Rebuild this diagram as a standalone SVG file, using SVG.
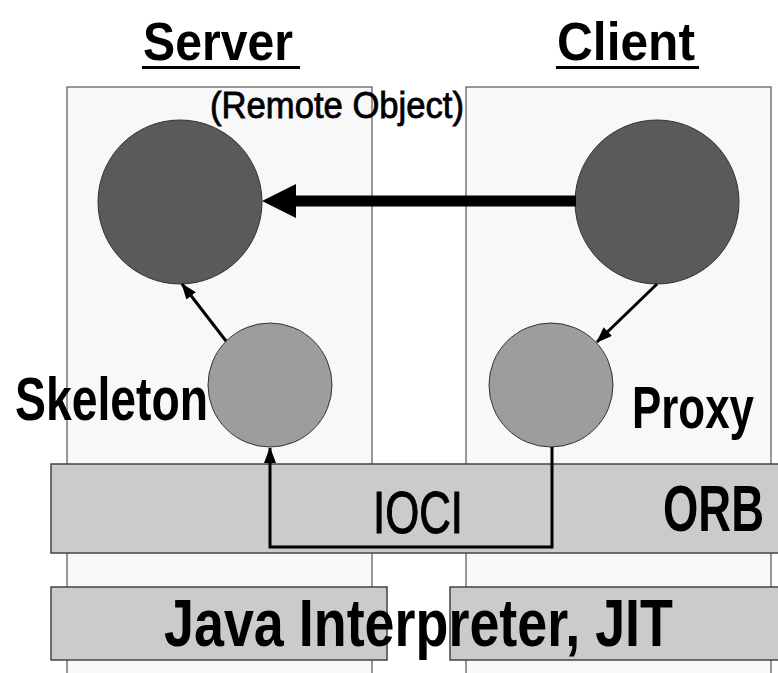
<svg xmlns="http://www.w3.org/2000/svg" width="778" height="673" viewBox="0 0 778 673">
<style>
.panel{fill:#f8f8f8;stroke:#555;stroke-width:1.2}
.bar{fill:#cbcbcb;stroke:#444;stroke-width:1.5}
.big{fill:#5a5a5a;stroke:#333;stroke-width:1}
.small{fill:#9d9d9d;stroke:#333;stroke-width:1}
.t{font-family:"Liberation Sans",Arial,sans-serif;fill:#000}
.b{font-weight:bold}
.conn{fill:none;stroke:#000;stroke-width:3}
</style>
<defs>
<marker id="ah" viewBox="0 0 16 12" refX="15" refY="6" markerWidth="16" markerHeight="12" markerUnits="userSpaceOnUse" orient="auto">
<path d="M0,0 L16,6 L0,12 z" fill="#000"/>
</marker>
</defs>
<rect width="778" height="673" fill="#fff"/>
<g id="server-panel"><rect class="panel" x="67" y="87" width="305" height="620"/></g>
<g id="client-panel"><rect class="panel" x="466" y="87" width="305" height="620"/></g>
<g id="orb"><rect class="bar" x="51" y="464" width="740" height="89"/></g>
<g id="jvm-left"><rect class="bar" x="51" y="587" width="336" height="73"/></g>
<g id="jvm-right"><rect class="bar" x="450" y="587" width="340" height="73"/></g>
<g id="remote-object"><circle class="big" cx="180" cy="202" r="82"/></g>
<g id="client-object"><circle class="big" cx="657" cy="202" r="82"/></g>
<g id="skeleton"><circle class="small" cx="270" cy="385" r="62"/></g>
<g id="proxy"><circle class="small" cx="551" cy="385" r="62"/></g>
<g id="connectors">
<line x1="296" y1="201" x2="576" y2="201" stroke="#000" stroke-width="11"/>
<polygon points="262,201 296,184 296,218" fill="#000"/>
<line class="conn" x1="226" y1="341" x2="182" y2="284" marker-end="url(#ah)"/>
<line class="conn" x1="657" y1="284" x2="597" y2="342" marker-end="url(#ah)"/>
<polyline class="conn" points="552,447 552,547 270,547 270,448" marker-end="url(#ah)"/>
</g>
<g id="labels">
<text class="t b" x="143" y="60" font-size="54" textLength="150" lengthAdjust="spacingAndGlyphs">Server</text>
<line x1="142" y1="67.5" x2="300" y2="67.5" stroke="#000" stroke-width="3"/>
<text class="t b" x="557" y="60" font-size="54" textLength="138" lengthAdjust="spacingAndGlyphs">Client</text>
<line x1="556" y1="67.5" x2="699" y2="67.5" stroke="#000" stroke-width="3"/>
<text class="t" x="210" y="118" font-size="36" stroke="#000" stroke-width="0.8" textLength="254" lengthAdjust="spacingAndGlyphs">(Remote Object)</text>
<text class="t b" x="15" y="420" font-size="62" textLength="193" lengthAdjust="spacingAndGlyphs">Skeleton</text>
<text class="t b" x="632" y="428" font-size="60" textLength="122" lengthAdjust="spacingAndGlyphs">Proxy</text>
<text class="t" x="373" y="533" font-size="60" stroke="#000" stroke-width="1.2" textLength="90" lengthAdjust="spacingAndGlyphs">IOCI</text>
<text class="t b" x="663" y="531" font-size="64" textLength="101" lengthAdjust="spacingAndGlyphs">ORB</text>
<text class="t b" x="164" y="646" font-size="67" textLength="509" lengthAdjust="spacingAndGlyphs">Java Interpreter, JIT</text>
</g>
</svg>
